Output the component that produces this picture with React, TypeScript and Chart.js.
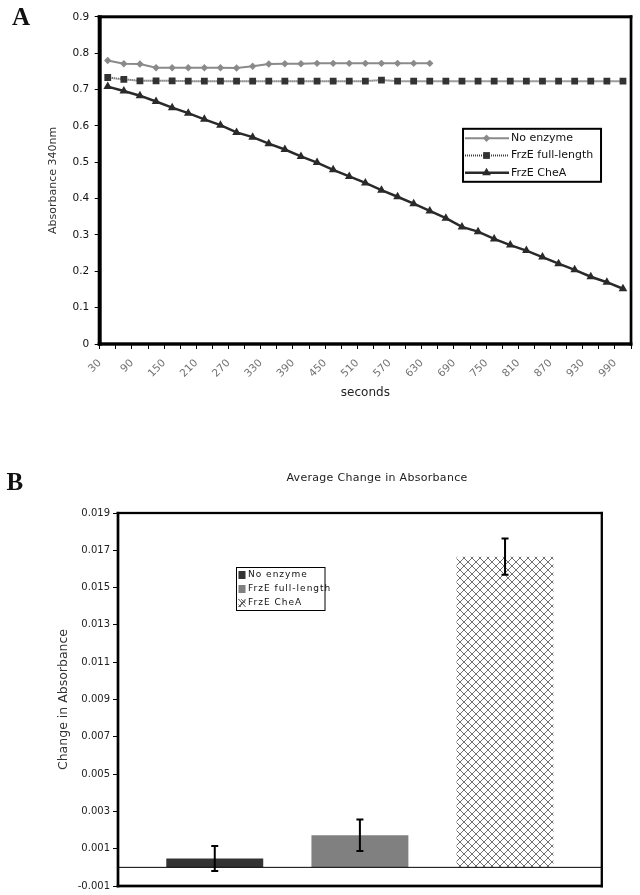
import React, { useEffect, useRef } from 'react';
import { Chart, registerables } from 'chart.js';

Chart.register(...registerables);

const FONT = '"DejaVu Sans", Verdana, sans-serif';

// ---------- Panel A data ----------
const seconds = [30, 60, 90, 120, 150, 180, 210, 240, 270, 300, 330, 360, 390, 420, 450, 480, 510,
  540, 570, 600, 630, 660, 690, 720, 750, 780, 810, 840, 870, 900, 930, 960, 990];
const noEnzyme = [0.780, 0.771, 0.770, 0.760, 0.760, 0.760, 0.760, 0.760, 0.759, 0.764, 0.770,
  0.771, 0.771, 0.772, 0.772, 0.772, 0.772, 0.772, 0.772, 0.772, 0.772];
const frzeFullLength = [0.733, 0.728, 0.724, 0.724, 0.724, 0.723, 0.723, 0.723, 0.723, 0.723, 0.723,
  0.723, 0.723, 0.723, 0.723, 0.723, 0.723, 0.726, 0.723, 0.723, 0.723, 0.723, 0.723, 0.723, 0.723,
  0.723, 0.723, 0.723, 0.723, 0.723, 0.723, 0.723, 0.723];
const frzeCheA = [0.708, 0.696, 0.683, 0.667, 0.650, 0.635, 0.618, 0.602, 0.582, 0.569, 0.551,
  0.535, 0.516, 0.499, 0.479, 0.461, 0.443, 0.423, 0.405, 0.386, 0.366, 0.346, 0.322, 0.309, 0.289,
  0.272, 0.257, 0.239, 0.221, 0.204, 0.185, 0.170, 0.152];
const seriesNamesA = ['No enzyme', 'FrzE full-length', 'FrzE CheA'];

// ---------- Panel B data ----------
const groupLabels = ['No enzyme', 'FrzE full-length', 'FrzE CheA'];
const changeValues = [0.00048, 0.00172, 0.01666];
const changeErrors = [0.00067, 0.00085, 0.00097];

function makeHatch(): CanvasPattern | string {
  const tile = document.createElement('canvas');
  tile.width = 8;
  tile.height = 8;
  const c = tile.getContext('2d');
  if (!c) return '#999';
  c.fillStyle = '#ffffff';
  c.fillRect(0, 0, 8, 8);
  c.strokeStyle = '#707070';
  c.lineWidth = 1;
  c.beginPath();
  c.moveTo(0, 0); c.lineTo(8, 8);
  c.moveTo(8, 0); c.lineTo(0, 8);
  c.stroke();
  return c.createPattern(tile, 'repeat') || '#999';
}

function drawMarker(ctx: CanvasRenderingContext2D, style: string, x: number, y: number, r: number, color: string) {
  ctx.save();
  ctx.fillStyle = color;
  ctx.beginPath();
  if (style === 'rectRot') {
    ctx.moveTo(x, y - r); ctx.lineTo(x + r, y); ctx.lineTo(x, y + r); ctx.lineTo(x - r, y);
  } else if (style === 'rect') {
    const s = Math.SQRT1_2 * r;
    ctx.rect(x - s, y - s, 2 * s, 2 * s);
  } else {
    ctx.moveTo(x, y - r);
    ctx.lineTo(x + 0.866 * r, y + 0.5 * r);
    ctx.lineTo(x - 0.866 * r, y + 0.5 * r);
  }
  ctx.closePath();
  ctx.fill();
  ctx.restore();
}

function frame(widths: { l: number; t: number; r: number; b: number }) {
  return {
    id: 'frame',
    afterDraw(chart: any) {
      const { ctx, chartArea: a } = chart;
      ctx.save();
      ctx.fillStyle = '#000';
      ctx.fillRect(a.left - widths.l / 2, a.top - widths.t / 2, a.right - a.left + widths.l / 2 + widths.r / 2, widths.t);
      ctx.fillRect(a.left - widths.l / 2, a.bottom - widths.b / 2, a.right - a.left + widths.l / 2 + widths.r / 2, widths.b);
      ctx.fillRect(a.left - widths.l / 2, a.top - widths.t / 2, widths.l, a.bottom - a.top + widths.t / 2 + widths.b / 2);
      ctx.fillRect(a.right - widths.r / 2, a.top - widths.t / 2, widths.r, a.bottom - a.top + widths.t / 2 + widths.b / 2);
      ctx.restore();
    },
  };
}

const legendA = {
  id: 'legendA',
  afterDraw(chart: any) {
    const { ctx } = chart;
    const a = chart.chartArea;
    const bx = a.right - 168, by = a.top + 112, bw = 138, bh = 53;
    ctx.save();
    ctx.fillStyle = '#fff';
    ctx.fillRect(bx, by, bw, bh);
    ctx.strokeStyle = '#000';
    ctx.lineWidth = 2;
    ctx.strokeRect(bx, by, bw, bh);
    chart.data.datasets.forEach((ds: any, i: number) => {
      const y = by + 9.5 + i * 17.2;
      ctx.save();
      ctx.strokeStyle = ds.borderColor;
      ctx.lineWidth = ds.borderWidth;
      ctx.setLineDash(ds.borderDash || []);
      ctx.beginPath();
      ctx.moveTo(bx + 2, y);
      ctx.lineTo(bx + 46, y);
      ctx.stroke();
      ctx.restore();
      drawMarker(ctx, ds.pointStyle, bx + 23.5, y, ds.pointRadius, ds.pointBackgroundColor);
      ctx.fillStyle = '#111';
      ctx.font = `11px ${FONT}`;
      ctx.textBaseline = 'middle';
      ctx.textAlign = 'left';
      ctx.fillText(ds.label, bx + 48, y);
    });
    ctx.restore();
  },
};

const errorBars = {
  id: 'errorBars',
  afterDatasetsDraw(chart: any) {
    const { ctx } = chart;
    const yScale = chart.scales.y;
    ctx.save();
    ctx.strokeStyle = '#000';
    // zero line
    const y0 = yScale.getPixelForValue(0);
    ctx.lineWidth = 1;
    ctx.beginPath();
    ctx.moveTo(chart.chartArea.left, y0);
    ctx.lineTo(chart.chartArea.right, y0);
    ctx.stroke();
    chart.data.datasets.forEach((ds: any, i: number) => {
      const bar = chart.getDatasetMeta(i).data[0];
      if (!bar) return;
      const v = changeValues[i];
      const e = changeErrors[i];
      const yt = yScale.getPixelForValue(v + e);
      const yb = yScale.getPixelForValue(v - e);
      ctx.lineWidth = 2;
      ctx.beginPath();
      ctx.moveTo(bar.x, yt);
      ctx.lineTo(bar.x, yb);
      ctx.moveTo(bar.x - 3.5, yt);
      ctx.lineTo(bar.x + 3.5, yt);
      ctx.moveTo(bar.x - 3.5, yb);
      ctx.lineTo(bar.x + 3.5, yb);
      ctx.stroke();
    });
    ctx.restore();
  },
};

const legendB = {
  id: 'legendB',
  afterDraw(chart: any) {
    const { ctx } = chart;
    const a = chart.chartArea;
    const bx = a.left + 118.5, by = a.top + 54.5, bw = 88.5, bh = 43;
    ctx.save();
    ctx.fillStyle = '#fff';
    ctx.fillRect(bx, by, bw, bh);
    ctx.strokeStyle = '#000';
    ctx.lineWidth = 1;
    ctx.strokeRect(bx, by, bw, bh);
    chart.data.datasets.forEach((ds: any, i: number) => {
      const y = by + 7.5 + i * 14;
      ctx.fillStyle = ds.backgroundColor;
      ctx.fillRect(bx + 2, y - 4, 7, 8);
      if (i === 2) {
        ctx.strokeStyle = '#555';
        ctx.lineWidth = 1;
        ctx.beginPath();
        ctx.moveTo(bx + 2, y - 4); ctx.lineTo(bx + 9, y + 4);
        ctx.moveTo(bx + 9, y - 4); ctx.lineTo(bx + 2, y + 4);
        ctx.stroke();
      }
      ctx.fillStyle = '#111';
      ctx.font = `9px ${FONT}`;
      try { (ctx as any).letterSpacing = '1px'; } catch (err) { /* ignore */ }
      ctx.textBaseline = 'middle';
      ctx.textAlign = 'left';
      ctx.fillText(ds.label, bx + 11.5, y);
      try { (ctx as any).letterSpacing = '0px'; } catch (err) { /* ignore */ }
    });
    ctx.restore();
  },
};

export default function App() {
  const refA = useRef<HTMLCanvasElement>(null);
  const refB = useRef<HTMLCanvasElement>(null);

  useEffect(() => {
    const chartA = new Chart(refA.current as HTMLCanvasElement, {
      type: 'line',
      data: {
        labels: seconds.map(String),
        datasets: [
          {
            label: seriesNamesA[0],
            data: noEnzyme,
            borderColor: '#8a8a8a',
            borderWidth: 2,
            pointStyle: 'rectRot',
            pointRadius: 3.7,
            pointBackgroundColor: '#8a8a8a',
            pointBorderWidth: 0,
            tension: 0,
          },
          {
            label: seriesNamesA[1],
            data: frzeFullLength,
            borderColor: '#3a3a3a',
            borderWidth: 2,
            borderDash: [1, 1],
            pointStyle: 'rect',
            pointRadius: 4.8,
            pointBackgroundColor: '#333333',
            pointBorderWidth: 0,
            tension: 0,
          },
          {
            label: seriesNamesA[2],
            data: frzeCheA,
            borderColor: '#2a2a2a',
            borderWidth: 2.5,
            pointStyle: 'triangle',
            pointRadius: 5,
            pointBackgroundColor: '#2a2a2a',
            pointBorderWidth: 0,
            tension: 0,
          },
        ],
      },
      options: {
        responsive: false,
        animation: false,
        layout: { padding: { left: 0, top: 16.8, right: 7.7, bottom: 26 } },
        plugins: { legend: { display: false }, tooltip: { enabled: false }, title: { display: false } },
        scales: {
          x: {
            type: 'category',
            offset: true,
            grid: { display: true, offset: true, drawOnChartArea: false, drawTicks: true, tickLength: 5, color: '#000' },
            border: { display: false },
            ticks: {
              autoSkip: false,
              minRotation: 45,
              maxRotation: 45,
              padding: 8,
              labelOffset: -8,
              color: '#707070',
              font: { family: FONT, size: 10.5 },
              callback: (_v: any, idx: number) => (idx % 2 === 0 ? String(seconds[idx]) : ''),
            },
            title: {
              display: true,
              text: 'seconds',
              color: '#222',
              font: { family: FONT, size: 12 },
              padding: { top: 0, bottom: 3.8 },
            },
            afterFit: (s: any) => { s.height = 60; },
          },
          y: {
            min: 0,
            max: 0.9,
            ticks: {
              stepSize: 0.1,
              color: '#111',
              padding: 5.4,
              font: { family: FONT, size: 10.5 },
              callback: (v: any) => (Number(v) === 0 ? '0' : Number(v).toFixed(1)),
            },
            grid: { display: true, drawOnChartArea: false, drawTicks: true, tickLength: 5, color: '#000' },
            border: { display: false },
            title: {
              display: true,
              text: 'Absorbance 340nm',
              color: '#333',
              font: { family: FONT, size: 11 },
              padding: { top: 47, bottom: 0 },
            },
            afterFit: (s: any) => { s.width = 99.7; },
          },
        },
      },
      plugins: [frame({ l: 4, t: 3, r: 2.7, b: 3.4 }), legendA],
    } as any);

    const hatch = makeHatch();
    const barFills: any[] = ['#333333', '#808080', hatch];

    const chartB = new Chart(refB.current as HTMLCanvasElement, {
      type: 'bar',
      data: {
        labels: [''],
        datasets: groupLabels.map((label, i) => ({
          label,
          data: [changeValues[i]],
          backgroundColor: barFills[i],
          borderWidth: 0,
          categoryPercentage: 0.9,
          barPercentage: 0.668,
        })),
      },
      options: {
        responsive: false,
        animation: false,
        layout: { padding: { left: 0, top: 83, right: 38.2, bottom: 7.3 } },
        plugins: { legend: { display: false }, tooltip: { enabled: false }, title: { display: false } },
        scales: {
          x: { display: false, offset: true },
          y: {
            min: -0.001,
            max: 0.019,
            ticks: {
              stepSize: 0.002,
              color: '#222',
              padding: 3,
              font: { family: FONT, size: 10 },
              callback: (v: any) => Number(v).toFixed(3),
            },
            grid: { display: true, drawOnChartArea: false, drawTicks: true, tickLength: 5, color: '#000' },
            border: { display: false },
            title: {
              display: true,
              text: 'Change in Absorbance',
              color: '#333',
              font: { family: FONT, size: 12.5 },
              padding: { top: 56.5, bottom: 0 },
            },
            afterFit: (s: any) => { s.width = 118; },
          },
        },
      },
      plugins: [errorBars, frame({ l: 2.7, t: 2.3, r: 2.3, b: 2.7 }), legendB],
    } as any);

    return () => {
      chartA.destroy();
      chartB.destroy();
    };
  }, []);

  return (
    <div style={{ position: 'absolute', left: 0, top: 0, width: 640, height: 895, background: '#fff', overflow: 'hidden' }}>
      <canvas ref={refA} width={640} height={430} style={{ position: 'absolute', left: 0, top: 0 }} />
      <canvas ref={refB} width={640} height={465} style={{ position: 'absolute', left: 0, top: 430 }} />
      <div style={{ position: 'absolute', left: 12, top: 3.5, font: 'bold 25px "Liberation Serif", "Times New Roman", serif', lineHeight: '25px', color: '#111' }}>A</div>
      <div style={{ position: 'absolute', left: 6.5, top: 468.5, font: 'bold 25px "Liberation Serif", "Times New Roman", serif', lineHeight: '25px', color: '#111' }}>B</div>
      <div style={{ position: 'absolute', left: 377, top: 471.4, transform: 'translateX(-50%)', whiteSpace: 'nowrap', font: `11px ${FONT}`, lineHeight: '13px', letterSpacing: '0.3px', color: '#222' }}>Average Change in Absorbance</div>
    </div>
  );
}
